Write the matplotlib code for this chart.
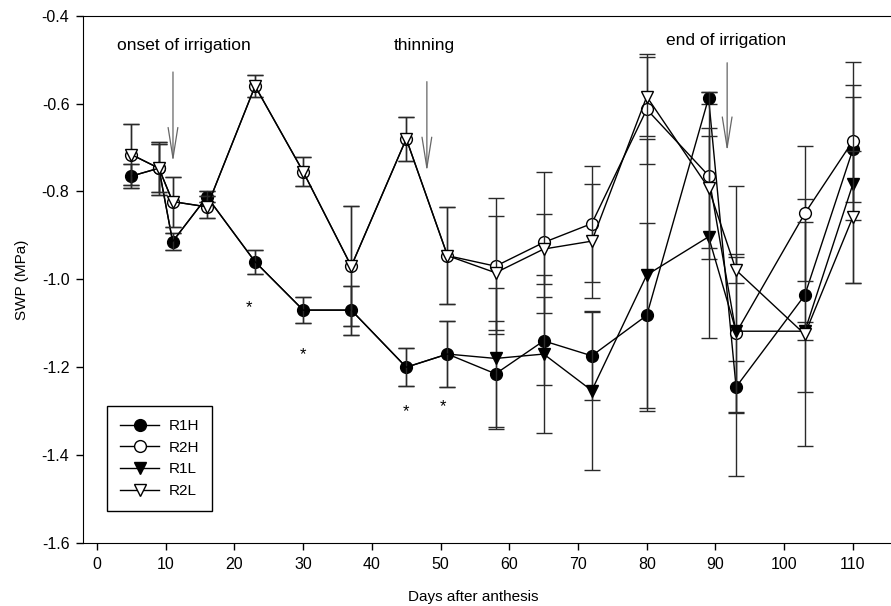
import matplotlib
matplotlib.use("Agg")
import matplotlib.pyplot as plt
from matplotlib.ticker import FormatStrFormatter

plt.rcParams["font.family"] = ["Liberation Sans", "DejaVu Sans"]

days = [5, 9, 11, 16, 23, 30, 37, 45, 51, 58, 65, 72, 80, 89, 93, 103, 110]

r1h = [-0.765, -0.747, -0.914, -0.812, -0.960, -1.070, -1.070, -1.200, -1.170,
       -1.215, -1.140, -1.174, -1.082, -0.587, -1.245, -1.036, -0.704]
r1h_err = [0.027, 0.060, 0.020, 0.012, 0.027, 0.030, 0.056, 0.043, 0.075,
           0.120, 0.100, 0.100, 0.210, 0.013, 0.060, 0.220, 0.120]

r2h = [-0.716, -0.747, -0.823, -0.835, -0.560, -0.755, -0.970, -0.680, -0.946,
       -0.970, -0.916, -0.873, -0.613, -0.764, -1.122, -0.850, -0.685]
r2h_err = [0.070, 0.055, 0.057, 0.025, 0.025, 0.033, 0.137, 0.050, 0.110,
           0.155, 0.160, 0.132, 0.125, 0.190, 0.180, 0.153, 0.180]

r1l = [-0.765, -0.747, -0.914, -0.812, -0.960, -1.070, -1.070, -1.200, -1.170,
       -1.180, -1.170, -1.253, -0.990, -0.903, -1.118, -1.118, -0.783]
r1l_err = [0.027, 0.060, 0.020, 0.012, 0.027, 0.030, 0.056, 0.043, 0.075,
           0.160, 0.180, 0.180, 0.310, 0.230, 0.330, 0.020, 0.225]

r2l = [-0.716, -0.747, -0.823, -0.835, -0.560, -0.755, -0.970, -0.680, -0.946,
       -0.985, -0.931, -0.913, -0.584, -0.792, -0.979, -1.125, -0.858]
r2l_err = [0.070, 0.055, 0.057, 0.025, 0.025, 0.033, 0.137, 0.050, 0.110,
           0.130, 0.080, 0.130, 0.090, 0.136, 0.030, 0.255, 0.150]

# events: label, label position, arrow top, arrow tip
events = [
    ("onset of irrigation", (12.6, -0.467), (11.05, -0.528), (11.05, -0.733)),
    ("thinning", (47.6, -0.467), (48.0, -0.550), (48.0, -0.755)),
    ("end of irrigation", (91.6, -0.457), (91.7, -0.507), (91.7, -0.709)),
]

# significance marks
star_days = [22.1, 30.0, 45.0, 50.4]
star_vals = [-1.065, -1.172, -1.300, -1.290]

fig = plt.figure(figsize=(8.91, 6.06), dpi=100)
ax = fig.add_axes([0.0935, 0.104, 0.910, 0.870])

# R1L markers hidden while it sits under R1H (before the treatments split)
n = len(days)
series = [
    ("R1H", r1h, r1h_err, "o", "black", 8.5, None),
    ("R2H", r2h, r2h_err, "o", "white", 8.5, None),
    ("R1L", r1l, r1l_err, "v", "black", 8, list(range(9, n))),
    ("R2L", r2l, r2l_err, "v", "white", 8, None),
]
for i, (name, vals, err, mk, face, ms, every) in enumerate(series):
    ax.errorbar(days, vals, yerr=err, fmt="none", ecolor="#2a2a2a",
                elinewidth=1.0, capsize=6, capthick=1.0, zorder=2 + i)
    ax.plot(days, vals, color="black", lw=1.0, marker=mk, ms=ms, markevery=every,
            mfc=face, mec="black", mew=1.0, label=name, zorder=3 + i)

for label, txt_pos, top, tip in events:
    ax.text(txt_pos[0], txt_pos[1], label, ha="center", va="center", fontsize=12.5)
    ax.annotate("", xy=tip, xytext=top,
                arrowprops=dict(arrowstyle="->,head_length=2.2,head_width=0.35",
                                color="#666666", lw=0.9, shrinkA=0, shrinkB=0))

for d, v in zip(star_days, star_vals):
    ax.text(d, v, "*", ha="center", va="center", fontsize=12)

ax.set_xlim(-2, 116)
ax.set_ylim(-1.6, -0.4)
ax.set_xticks(range(0, 111, 10))
ax.set_yticks([-1.6, -1.4, -1.2, -1.0, -0.8, -0.6, -0.4])
ax.yaxis.set_major_formatter(FormatStrFormatter("%.1f"))
ax.spines["right"].set_visible(False)
ax.tick_params(direction="out", length=5, width=1, labelsize=11.5, pad=5)
ax.set_xlabel("Days after anthesis", fontsize=11)
ax.set_ylabel("SWP (MPa)", fontsize=11)
ax.xaxis.set_label_coords(0.481, -0.102)
ax.xaxis.label.set_va("center")
ax.yaxis.set_label_coords(-0.0756, 0.499)
ax.yaxis.label.set_va("center")

leg = ax.legend(loc="lower left", bbox_to_anchor=(0.0289, 0.0607), borderaxespad=0,
                fancybox=False, edgecolor="black", fontsize=11, handlelength=2.6,
                handletextpad=0.6, labelspacing=0.5, borderpad=0.85, framealpha=1)
leg.get_frame().set_linewidth(1.0)

fig.savefig("out.png", dpi=100)
